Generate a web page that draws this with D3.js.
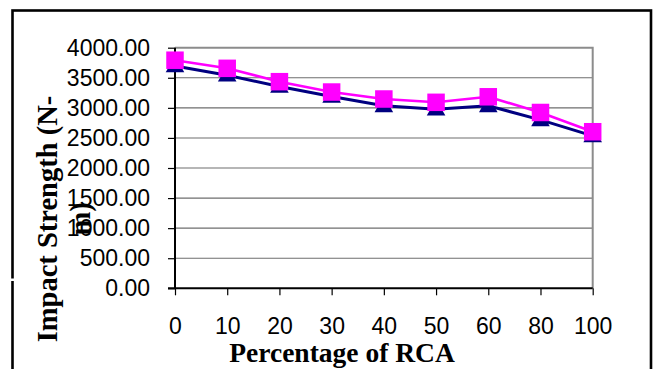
<!DOCTYPE html>
<html>
<head>
<meta charset="utf-8">
<script src="https://cdn.jsdelivr.net/npm/d3@7"></script>
<style>
  html, body { margin: 0; padding: 0; background: #ffffff; }
  svg { display: block; }
</style>
</head>
<body>
<svg id="chart" width="653" height="369"></svg>
<script>
// ---- data ----
const categories = ["0", "10", "20", "30", "40", "50", "60", "80", "100"];
const seriesNavy = [3696, 3543, 3355, 3189, 3034, 2978, 3034, 2801, 2535];
const seriesPink = [3792, 3657, 3435, 3263, 3147, 3092, 3184, 2923, 2603];
const yTicks = [0, 500, 1000, 1500, 2000, 2500, 3000, 3500, 4000];
const yTickLabels = ["0.00", "500.00", "1000.00", "1500.00", "2000.00", "2500.00", "3000.00", "3500.00", "4000.00"];
const xTitle = "Percentage of RCA";
const yTitleLines = ["Impact Strength (N-", "m)"];

// ---- layout ----
const plot = { left: 175, top: 47.7, right: 592.7, bottom: 288.3 };

const svg = d3.select("#chart");

// outer frame
svg.append("rect")
  .attr("x", 12.5).attr("y", 10.5)
  .attr("width", 651 - 12.5).attr("height", 400)
  .attr("fill", "#ffffff")
  .attr("stroke", "#000000").attr("stroke-width", 2.6);
// small break in the left frame edge
svg.append("rect")
  .attr("x", 10).attr("y", 278.5).attr("width", 6).attr("height", 2.5)
  .attr("fill", "#ffffff");

const x = d3.scalePoint().domain(categories).range([plot.left, plot.right]);
const y = d3.scaleLinear().domain([0, 4000]).range([plot.bottom, plot.top]);

// gridlines
svg.append("g")
  .selectAll("line")
  .data(yTicks.filter(v => v > 0 && v < 4000))
  .join("line")
  .attr("x1", plot.left).attr("x2", plot.right)
  .attr("y1", d => y(d)).attr("y2", d => y(d))
  .attr("stroke", "#6e6e6e").attr("stroke-width", 1.1);

// plot border: top & right (gray)
svg.append("path")
  .attr("d", `M${plot.left},${y(4000)}H${plot.right}V${plot.bottom}`)
  .attr("fill", "none").attr("stroke", "#8c8c8c").attr("stroke-width", 2);

// y axis
const yAxis = d3.axisLeft(y)
  .tickValues(yTicks)
  .tickFormat((d, i) => yTickLabels[i])
  .tickSize(7).tickPadding(18);
const gy = svg.append("g").attr("transform", `translate(${plot.left},0)`).call(yAxis);
gy.select(".domain").remove();
gy.selectAll(".tick line").attr("stroke", "#000").attr("stroke-width", 1.2);
gy.selectAll(".tick text")
  .attr("font-family", "'Liberation Sans', Arial, sans-serif")
  .attr("font-size", 23).attr("fill", "#000");
svg.append("line")
  .attr("x1", plot.left).attr("x2", plot.left)
  .attr("y1", plot.top).attr("y2", plot.bottom)
  .attr("stroke", "#000").attr("stroke-width", 2);

// x axis
const xAxis = d3.axisBottom(x).tickSize(7).tickPadding(22);
const gx = svg.append("g").attr("transform", `translate(0,${plot.bottom})`).call(xAxis);
gx.select(".domain").remove();
gx.selectAll(".tick line").attr("stroke", "#000").attr("stroke-width", 1.2);
gx.selectAll(".tick text")
  .attr("font-family", "'Liberation Sans', Arial, sans-serif")
  .attr("font-size", 23).attr("fill", "#000");
svg.append("line")
  .attr("x1", plot.left - 7).attr("x2", plot.right)
  .attr("y1", plot.bottom).attr("y2", plot.bottom)
  .attr("stroke", "#000").attr("stroke-width", 2);

// lines
const line = d3.line().x((d, i) => x(categories[i])).y(d => y(d));
svg.append("path").datum(seriesNavy)
  .attr("d", line).attr("fill", "none")
  .attr("stroke", "#000080").attr("stroke-width", 3);
svg.append("path").datum(seriesPink)
  .attr("d", line).attr("fill", "none")
  .attr("stroke", "#ff00ff").attr("stroke-width", 2.6);

// navy triangles
const tri = d3.symbol().type(d3.symbolTriangle).size(150);
svg.append("g").selectAll("path")
  .data(seriesNavy)
  .join("path")
  .attr("transform", (d, i) => `translate(${x(categories[i])},${y(d) + 1})`)
  .attr("d", tri)
  .attr("fill", "#000080");

// pink squares
const sq = 17.5;
svg.append("g").selectAll("rect")
  .data(seriesPink)
  .join("rect")
  .attr("x", (d, i) => x(categories[i]) - sq / 2)
  .attr("y", d => y(d) - sq / 2)
  .attr("width", sq).attr("height", sq)
  .attr("fill", "#ff00ff");

// x title
svg.append("text")
  .attr("x", 342).attr("y", 362)
  .attr("text-anchor", "middle")
  .attr("font-family", "'Liberation Serif', 'Times New Roman', serif")
  .attr("font-weight", "bold").attr("font-size", 27.5)
  .attr("fill", "#000")
  .text(xTitle);

// y title (wrapped, rotated)
const yBaselines = [57, 90];
yTitleLines.forEach((t, i) => {
  svg.append("text")
    .attr("transform", `translate(${yBaselines[i]},219) rotate(-90)`)
    .attr("text-anchor", "middle")
    .attr("font-family", "'Liberation Serif', 'Times New Roman', serif")
    .attr("font-weight", "bold").attr("font-size", 28.5)
    .attr("fill", "#000")
    .text(t);
});
</script>
</body>
</html>
